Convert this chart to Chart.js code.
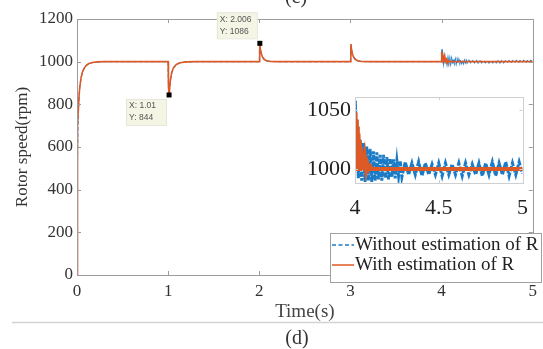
<!DOCTYPE html>
<html>
<head>
<meta charset="utf-8">
<script src="https://cdn.jsdelivr.net/npm/chart.js@4.4.0/dist/chart.umd.min.js"></script>
<style>
  html, body { margin: 0; padding: 0; background: #fff; }
  #wrap { position: relative; width: 543px; height: 349px; overflow: hidden; }
  #mainChart { position: absolute; left: 0; top: 0; }
  #insetChart { position: absolute; left: 290px; top: 80px; }
</style>
</head>
<body>
<div id="wrap">
  <canvas id="mainChart" width="543" height="349"></canvas>
  <canvas id="insetChart" width="250" height="145"></canvas>
</div>
<script>
// Rotor speed before the 4 s event (both runs overlap here)
const baseTime = [0, 0.002, 0.005, 0.01, 0.02, 0.03, 0.045, 0.06, 0.08, 0.1, 0.13, 0.17, 0.22, 0.3, 1.0,
  1.002, 1.005, 1.01, 1.015, 1.025, 1.04, 1.06, 1.09, 1.13, 1.2, 1.3, 2.0,
  2.003, 2.006, 2.012, 2.02, 2.035, 2.055, 2.08, 2.12, 2.2, 3.0,
  3.003, 3.006, 3.012, 3.02, 3.035, 3.055, 3.08, 3.12, 3.2, 3.995];
const baseSpeed = [0, 300, 550, 700, 820, 880, 925, 952, 970, 982, 991, 996, 999, 1000, 1000,
  930, 880, 844, 870, 915, 950, 972, 987, 995, 999, 1000, 1000,
  1060, 1086, 1060, 1040, 1022, 1010, 1004, 1001, 1000, 1000,
  1055, 1082, 1058, 1038, 1021, 1010, 1004, 1001, 1000, 1000];

// From 4 s on, with estimation of R
const withTime = [4.0, 4.002, 4.005, 4.008, 4.011, 4.014, 4.017, 4.021, 4.025, 4.029, 4.033, 4.038,
  4.043, 4.048, 4.054, 4.06, 4.067, 4.075, 4.083, 4.092, 4.1, 4.2, 4.4, 4.6, 4.8, 5.0];
const withSpeed = [1000, 1048, 1010, 1042, 1004, 1036, 1001, 1030, 1000, 1024, 999, 1018,
  999, 1012, 999, 1008, 999, 1004, 1000, 1002, 1000, 1000, 1000, 1000, 1000, 1000];

// From 4 s on, without estimation of R
const withoutTime = [4.0, 4.002, 4.006, 4.01, 4.02, 4.03, 4.04, 4.05, 4.06, 4.07, 4.08, 4.09,
  4.10, 4.11, 4.12, 4.13, 4.14, 4.15, 4.16, 4.17, 4.18, 4.19, 4.20, 4.21, 4.22, 4.23, 4.24,
  4.25, 4.26, 4.27, 4.28, 4.30, 4.32, 4.34, 4.36, 4.38, 4.40, 4.42, 4.44, 4.46, 4.48, 4.50,
  4.52, 4.54, 4.56, 4.58, 4.60, 4.62, 4.64, 4.66, 4.68, 4.70, 4.72, 4.74, 4.76, 4.78, 4.80,
  4.82, 4.84, 4.86, 4.88, 4.90, 4.92, 4.94, 4.96, 4.98, 5.00];
const withoutSpeed = [1000, 1058, 1030, 1040, 992, 1025, 990, 1022, 989, 1019, 990, 1017,
  989, 1015, 990, 1014, 991, 1012, 990, 1012, 992, 1010, 991, 1009, 993, 1008, 992,
  1007, 994, 1007, 993, 1006, 995, 1005, 995, 1006, 994, 1005, 995, 1004, 995, 1005,
  994, 1005, 995, 1004, 995, 1005, 994, 1005, 995, 1004, 995, 1005, 994, 1005, 995,
  1006, 994, 1005, 995, 1006, 994, 1005, 995, 1006, 996];

const mainXTicks = [0, 1, 2, 3, 4, 5];
const mainYTicks = [0, 200, 400, 600, 800, 1000, 1200];
const insetXTicks = [4, 4.5, 5];
const insetYTicks = [1000, 1050];

const dataTips = [
  { x: 1.01, y: 844, lines: ['X: 1.01', 'Y: 844'], below: true },
  { x: 2.006, y: 1086, lines: ['X: 2.006', 'Y: 1086'], below: false }
];

const seriesNames = ['Without estimation of R', 'With estimation of R'];
const blue = '#1b7bc6';
const red = '#dd5a26';
const serif = "'Liberation Serif', 'Times New Roman', serif";

Chart.defaults.font.family = serif;
Chart.defaults.animation = false;

function toPoints(ts, vs) {
  return ts.map((t, i) => ({ x: t, y: vs[i] }));
}

function fixedTicks(values) {
  return function(scale) {
    scale.ticks = values.map(v => ({ value: v }));
  };
}

function plainLabel(v) {
  return String(v);
}

// box around the plot area with small inward ticks
function framePlugin(color, tickLen, fill) {
  return {
    id: 'frame',
    beforeDatasetsDraw(chart) {
      if (!fill) return;
      const a = chart.chartArea;
      chart.ctx.save();
      chart.ctx.fillStyle = fill;
      chart.ctx.fillRect(a.left, a.top, a.right - a.left, a.bottom - a.top);
      chart.ctx.restore();
    },
    afterDatasetsDraw(chart) {
      const ctx = chart.ctx;
      const a = chart.chartArea;
      const xs = chart.scales.x, ys = chart.scales.y;
      ctx.save();
      ctx.strokeStyle = color;
      ctx.lineWidth = 1;
      ctx.strokeRect(Math.round(a.left) + 0.5, Math.round(a.top) + 0.5,
        Math.round(a.right - a.left), Math.round(a.bottom - a.top));
      ctx.beginPath();
      xs.ticks.forEach(t => {
        const px = Math.round(xs.getPixelForValue(t.value)) + 0.5;
        ctx.moveTo(px, a.bottom); ctx.lineTo(px, a.bottom - tickLen);
        ctx.moveTo(px, a.top); ctx.lineTo(px, a.top + tickLen);
      });
      ys.ticks.forEach(t => {
        const py = Math.round(ys.getPixelForValue(t.value)) + 0.5;
        ctx.moveTo(a.left, py); ctx.lineTo(a.left + tickLen, py);
        ctx.moveTo(a.right, py); ctx.lineTo(a.right - tickLen, py);
      });
      ctx.stroke();
      ctx.restore();
    }
  };
}

// data tips, legend and the figure captions
const annotations = {
  id: 'annotations',
  afterDraw(chart) {
    const ctx = chart.ctx;
    const xs = chart.scales.x, ys = chart.scales.y;
    ctx.save();

    dataTips.forEach(tip => {
      const px = xs.getPixelForValue(tip.x);
      const py = ys.getPixelForValue(tip.y);
      const w = 40, h = 26;
      const bx = px - w - 3;
      const by = tip.below ? py + 4 : py - h - 5;
      ctx.fillStyle = '#f5f5e6';
      ctx.fillRect(bx, by, w, h);
      ctx.strokeStyle = '#e6e6d8';
      ctx.strokeRect(bx + 0.5, by + 0.5, w, h);
      ctx.fillStyle = '#555';
      ctx.font = "8.5px 'Liberation Sans', Arial, sans-serif";
      ctx.textBaseline = 'middle';
      ctx.textAlign = 'left';
      ctx.fillText(tip.lines[0], bx + 3, by + 7);
      ctx.fillText(tip.lines[1], bx + 3, by + 19);
      ctx.fillStyle = '#000';
      ctx.fillRect(px - 2.5, py - 2.5, 5, 5);
    });

    // legend
    const lx = 330, ly = 233, lw = 211, lh = 49;
    ctx.fillStyle = '#fff';
    ctx.fillRect(lx, ly, lw, lh);
    ctx.strokeStyle = '#a0a0a0';
    ctx.lineWidth = 1;
    ctx.strokeRect(lx + 0.5, ly + 0.5, lw, lh);
    const colors = [blue, red];
    const dashes = [[4, 2.5], []];
    seriesNames.forEach((name, i) => {
      const yy = ly + 12 + i * 20;
      ctx.strokeStyle = colors[i];
      ctx.lineWidth = 1.5;
      ctx.setLineDash(dashes[i]);
      ctx.beginPath();
      ctx.moveTo(lx + 2, yy); ctx.lineTo(lx + 24, yy);
      ctx.stroke();
      ctx.setLineDash([]);
      ctx.fillStyle = '#222';
      ctx.font = '19px ' + serif;
      ctx.textBaseline = 'middle';
      ctx.textAlign = 'left';
      ctx.fillText(name, lx + 25, yy);
    });

    // captions
    ctx.fillStyle = '#333';
    ctx.font = '20px ' + serif;
    ctx.textAlign = 'center';
    ctx.textBaseline = 'alphabetic';
    ctx.fillText('(c)', 296, 3);
    ctx.fillText('(d)', 297, 344);
    ctx.strokeStyle = '#d2d2d2';
    ctx.beginPath();
    ctx.moveTo(12, 322.5); ctx.lineTo(543, 322.5);
    ctx.stroke();
    ctx.restore();
  }
};

new Chart(document.getElementById('mainChart'), {
  type: 'line',
  data: {
    datasets: [
      {
        label: seriesNames[1],
        data: toPoints(baseTime.concat(withTime), baseSpeed.concat(withSpeed)),
        borderColor: red, borderWidth: 1.6, pointRadius: 0, tension: 0, order: 0
      },
      {
        label: seriesNames[0],
        data: toPoints(baseTime.concat(withoutTime), baseSpeed.concat(withoutSpeed)),
        borderColor: blue, borderWidth: 1.2, borderDash: [4, 2], pointRadius: 0, tension: 0, order: 1
      }
    ]
  },
  options: {
    responsive: false,
    devicePixelRatio: 1,
    layout: { padding: { left: 0, top: 19, right: 6, bottom: 0 } },
    plugins: { legend: { display: false }, tooltip: { enabled: false } },
    scales: {
      x: {
        type: 'linear', min: 0, max: 5,
        afterBuildTicks: fixedTicks(mainXTicks),
        afterFit: s => { s.height = 74; },
        grid: { display: false, drawTicks: false },
        border: { display: false },
        ticks: { color: '#333', font: { family: serif, size: 17 }, padding: 6, maxRotation: 0, callback: plainLabel },
        title: { display: true, text: 'Time(s)', color: '#444', font: { family: serif, size: 19 }, padding: { top: 0, bottom: 26 } }
      },
      y: {
        min: 0, max: 1200,
        afterBuildTicks: fixedTicks(mainYTicks),
        afterFit: s => { s.width = 77; },
        grid: { display: false, drawTicks: false },
        border: { display: false },
        ticks: { color: '#333', font: { family: serif, size: 17 }, padding: 4, callback: plainLabel },
        title: { display: true, text: 'Rotor speed(rpm)', color: '#333', font: { family: serif, size: 17 }, padding: { top: 12 } }
      }
    }
  },
  plugins: [framePlugin('#9c9c9c', 4, null), annotations]
});

new Chart(document.getElementById('insetChart'), {
  type: 'line',
  data: {
    datasets: [
      {
        label: seriesNames[1],
        data: toPoints(withTime, withSpeed),
        borderColor: red, borderWidth: 4, pointRadius: 0, tension: 0, order: 0
      },
      {
        label: seriesNames[0],
        data: toPoints(withoutTime, withoutSpeed),
        borderColor: blue, borderWidth: 3, borderDash: [5, 1.5], pointRadius: 0, tension: 0, order: 1
      }
    ]
  },
  options: {
    responsive: false,
    devicePixelRatio: 1,
    layout: { padding: { left: 0, top: 6, right: 10, bottom: 0 } },
    plugins: { legend: { display: false }, tooltip: { enabled: false } },
    scales: {
      x: {
        type: 'linear', min: 4, max: 5,
        afterBuildTicks: fixedTicks(insetXTicks),
        afterFit: s => { s.height = 42; },
        grid: { display: false, drawTicks: false },
        border: { display: false },
        ticks: { color: '#222', font: { family: serif, size: 22 }, padding: 12, maxRotation: 0, callback: plainLabel }
      },
      y: {
        min: 988, max: 1061,
        afterBuildTicks: fixedTicks(insetYTicks),
        afterFit: s => { s.width = 65; },
        grid: { display: false, drawTicks: false },
        border: { display: false },
        ticks: { color: '#222', font: { family: serif, size: 22 }, padding: 4, callback: plainLabel }
      }
    }
  },
  plugins: [framePlugin('#cfcfcf', 3, '#fff')]
});
</script>
</body>
</html>
